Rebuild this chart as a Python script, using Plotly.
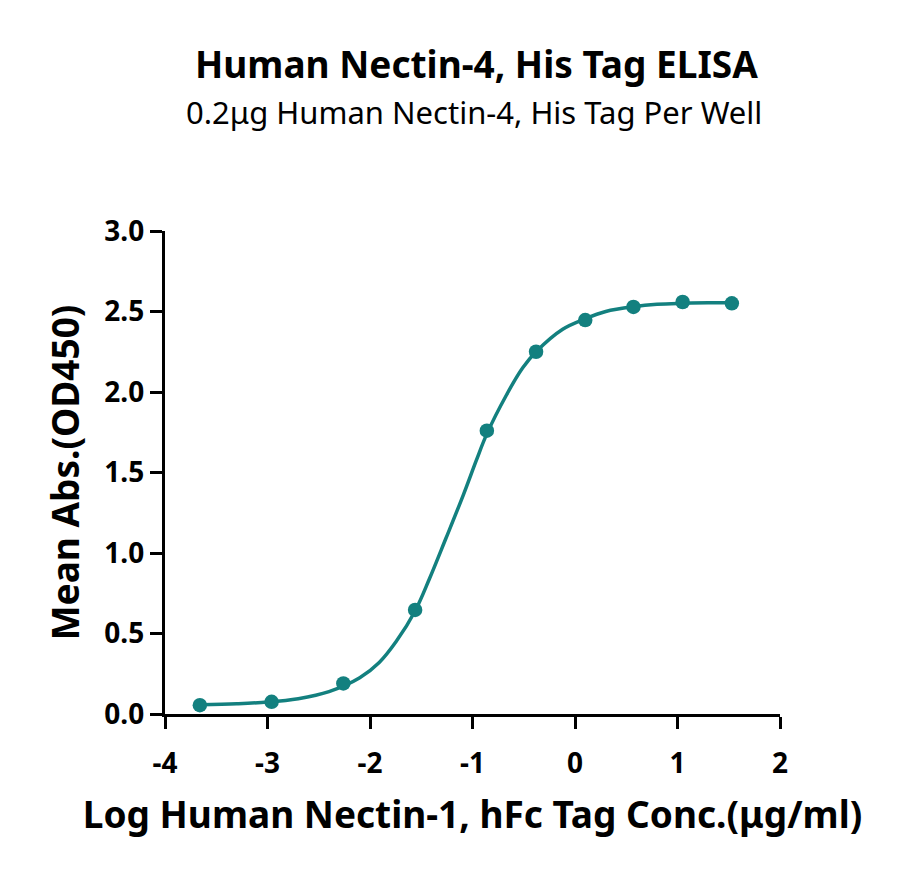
import plotly.graph_objects as go

# measured points (log conc. vs mean OD450)
log_conc = [-3.66, -2.96, -2.26, -1.56, -0.86, -0.38, 0.10, 0.57, 1.05, 1.53]
mean_abs = [0.055, 0.076, 0.19, 0.646, 1.76, 2.25, 2.447, 2.528, 2.559, 2.551]

# fitted curve
curve_x = [-3.66, -3.3, -3.0, -2.7, -2.4, -2.1, -1.91, -1.745, -1.56, -1.42, -1.26,
           -1.09, -0.96, -0.86, -0.67, -0.51, -0.38, -0.12, 0.10, 0.3, 0.57, 0.8,
           1.05, 1.3, 1.53]
curve_y = [0.058, 0.064, 0.074, 0.095, 0.139, 0.225, 0.32, 0.45, 0.64, 0.84, 1.09,
           1.36, 1.58, 1.74, 1.98, 2.15, 2.25, 2.39, 2.455, 2.50, 2.53, 2.545,
           2.551, 2.554, 2.555]

x_ticks = [-4, -3, -2, -1, 0, 1, 2]
y_ticks = [0.0, 0.5, 1.0, 1.5, 2.0, 2.5, 3.0]

teal = "#13807f"
font_name = "Noto Sans"

# page has an 8px body margin, so margins are shifted by that
m_l, m_r, m_t, m_b = 157, 128, 223, 169
W, H = 900, 875

fig = go.Figure()

fig.add_trace(
    go.Scatter(
        x=curve_x,
        y=curve_y,
        mode="lines",
        line=dict(color=teal, width=3.5, shape="spline", smoothing=1.0),
        hoverinfo="skip",
        showlegend=False,
    )
)
fig.add_trace(
    go.Scatter(
        x=log_conc,
        y=mean_abs,
        mode="markers",
        marker=dict(color=teal, size=14.5),
        showlegend=False,
    )
)

axis_font = dict(family=font_name, size=28, color="black", weight="bold")
label_font = dict(family=font_name, size=37, color="black", weight="bold")

fig.update_layout(
    width=W,
    height=H,
    plot_bgcolor="white",
    paper_bgcolor="white",
    margin=dict(l=m_l, r=m_r, t=m_t, b=m_b),
    font=dict(family=font_name, color="black"),
    xaxis=dict(
        range=[-4, 2],
        tickvals=x_ticks,
        ticktext=[str(v) for v in x_ticks],
        showgrid=False,
        zeroline=False,
        showline=True,
        linecolor="black",
        linewidth=3.3,
        ticks="outside",
        ticklen=12,
        tickwidth=3.3,
        tickcolor="black",
        tickfont=axis_font,
        ticklabelstandoff=10,
        title=dict(
            text="Log Human Nectin-1, hFc Tag Conc.(μg/ml)",
            font=label_font,
            standoff=23,
        ),
    ),
    yaxis=dict(
        range=[0, 3],
        tickvals=y_ticks,
        ticktext=[f"{v:.1f}" for v in y_ticks],
        showgrid=False,
        zeroline=False,
        showline=True,
        linecolor="black",
        linewidth=3.3,
        ticks="outside",
        ticklen=12,
        tickwidth=3.3,
        tickcolor="black",
        tickfont=axis_font,
        title=dict(
            text="Mean Abs.(OD450)",
            font=label_font,
            standoff=14,
        ),
    ),
)

# title lines placed by pixel position from the top of the page
plot_w = W - m_l - m_r
plot_h = H - m_t - m_b


def page_to_paper(px, py):
    return (px - m_l - 8) / plot_w, 1 + (m_t + 8 - py) / plot_h


tx, ty = page_to_paper(476, 63)
sx, sy = page_to_paper(474, 112)
fig.add_annotation(
    text="<b>Human Nectin-4, His Tag ELISA</b>",
    x=tx, y=ty, xref="paper", yref="paper",
    xanchor="center", yanchor="middle", showarrow=False,
    font=dict(family=font_name, size=37, color="black"),
)
fig.add_annotation(
    text="0.2μg Human Nectin-4, His Tag Per Well",
    x=sx, y=sy, xref="paper", yref="paper",
    xanchor="center", yanchor="middle", showarrow=False,
    font=dict(family=font_name, size=31, color="black"),
)

fig.write_html("out.html")
